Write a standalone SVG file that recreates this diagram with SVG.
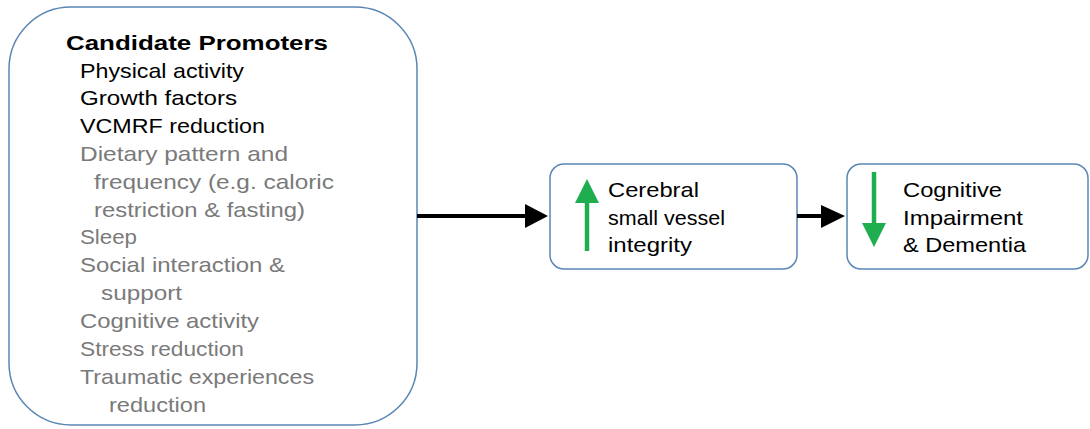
<svg xmlns="http://www.w3.org/2000/svg" width="1090" height="429" viewBox="0 0 1090 429">
<defs>
<style>
.box{fill:#fff;stroke:#5b86b4;stroke-width:1.5}
.t{font-family:"Liberation Sans",Arial,sans-serif;font-size:21px;fill:#000}
.g{fill:#7a7a7a}
.b{font-weight:bold}
.conn{stroke:#000;stroke-width:4;fill:none}
.grn{stroke:#1fae4f;stroke-width:4.5;fill:none}
.gh{fill:#1fae4f}
.ah{fill:#000}
</style>
</defs>
<g id="promoters">
<rect class="box" x="9" y="7" width="408" height="418" rx="62" ry="62"/>
<text class="t b" x="66" y="50" textLength="262" lengthAdjust="spacingAndGlyphs">Candidate Promoters</text>
<text class="t" x="80" y="78" textLength="164" lengthAdjust="spacingAndGlyphs">Physical activity</text>
<text class="t" x="80" y="105" textLength="157" lengthAdjust="spacingAndGlyphs">Growth factors</text>
<text class="t" x="80" y="133" textLength="185" lengthAdjust="spacingAndGlyphs">VCMRF reduction</text>
<text class="t g" x="80" y="161" textLength="208" lengthAdjust="spacingAndGlyphs">Dietary pattern and</text>
<text class="t g" x="94" y="189" textLength="240" lengthAdjust="spacingAndGlyphs">frequency (e.g. caloric</text>
<text class="t g" x="94" y="217" textLength="211" lengthAdjust="spacingAndGlyphs">restriction &amp; fasting)</text>
<text class="t g" x="80" y="244" textLength="57" lengthAdjust="spacingAndGlyphs">Sleep</text>
<text class="t g" x="80" y="272" textLength="205" lengthAdjust="spacingAndGlyphs">Social interaction &amp;</text>
<text class="t g" x="101" y="300" textLength="81" lengthAdjust="spacingAndGlyphs">support</text>
<text class="t g" x="80" y="328" textLength="179" lengthAdjust="spacingAndGlyphs">Cognitive activity</text>
<text class="t g" x="80" y="356" textLength="164" lengthAdjust="spacingAndGlyphs">Stress reduction</text>
<text class="t g" x="80" y="384" textLength="234" lengthAdjust="spacingAndGlyphs">Traumatic experiences</text>
<text class="t g" x="109" y="412" textLength="97" lengthAdjust="spacingAndGlyphs">reduction</text>
</g>
<g id="vessel">
<rect class="box" x="550" y="164" width="247" height="105" rx="14" ry="14"/>
<line class="grn" x1="587" y1="251" x2="587" y2="200"/>
<path class="gh" d="M575,203 L587,179 L599,203 Z"/>
<text class="t" x="608" y="197" textLength="91" lengthAdjust="spacingAndGlyphs">Cerebral</text>
<text class="t" x="608" y="225" textLength="117" lengthAdjust="spacingAndGlyphs">small vessel</text>
<text class="t" x="608" y="252" textLength="84" lengthAdjust="spacingAndGlyphs">integrity</text>
</g>
<g id="dementia">
<rect class="box" x="847" y="164" width="241" height="105" rx="14" ry="14"/>
<line class="grn" x1="874" y1="172" x2="874" y2="226"/>
<path class="gh" d="M862,223 L874,247 L886,223 Z"/>
<text class="t" x="903" y="197" textLength="99" lengthAdjust="spacingAndGlyphs">Cognitive</text>
<text class="t" x="903" y="225" textLength="120" lengthAdjust="spacingAndGlyphs">Impairment</text>
<text class="t" x="903" y="252" textLength="123" lengthAdjust="spacingAndGlyphs">&amp; Dementia</text>
</g>
<g id="connectors">
<line class="conn" x1="417" y1="216" x2="528" y2="216"/>
<path class="ah" d="M525,204 L548,216 L525,228 Z"/>
<line class="conn" x1="797" y1="216" x2="824" y2="216"/>
<path class="ah" d="M821,205 L845,216 L821,228 Z"/>
</g>
</svg>
